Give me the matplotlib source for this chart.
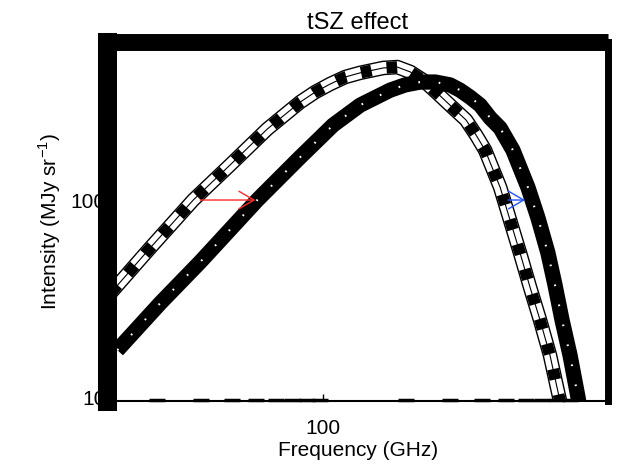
import numpy as np
import matplotlib as mpl
mpl.use('Agg')
import matplotlib.pyplot as plt

mpl.rcParams['font.family'] = ['Liberation Sans', 'DejaVu Sans']

# original CMB spectrum (hatched curve)
freq_cmb = [14.1, 20.3, 30.2, 42.5, 59.7, 80.9, 92.9, 106.7, 122.5, 140.6, 174, 198,
            223, 251, 286, 322, 373, 409, 445, 511, 560, 614, 673, 738, 809,
            863, 904]
inten_cmb = [33.7, 57.1, 100, 151, 229, 314, 353, 388, 421, 442, 468, 473,
             447, 406, 349, 303, 255, 214, 179, 116, 79, 53.8, 36.1, 24.6, 16.3,
             11.2, 8.6]

# tSZ distorted spectrum (solid black curve)
freq_tsz = [15.0, 22.3, 32.2, 54.5, 80.9, 109.6, 140.6, 185.4, 213, 244.3, 281,
            322, 353, 387, 425, 466, 511, 575, 660, 724, 794, 847, 904, 973,
            1047, 1086]
inten_tsz = [17.3, 30.0, 48.5, 100, 165, 240, 303, 361, 384, 397, 397,
             384, 361, 333, 303, 261, 232, 179, 116, 81.2, 53.8, 37.1, 24.6, 16.3,
             10.0, 7.6]

# photon shift arrows (start freq, end freq, intensity)
red_arrow = (32.2, 53.5, 100)
blue_arrow = (549.5, 642.7, 100)

xminor = [20, 30, 40, 50, 60, 70, 80, 90, 200, 300, 400, 500, 600, 700, 800, 900]

fig = plt.figure(figsize=(6.17, 4.66), dpi=100)
ax = fig.add_axes([0.1742, 0.1395, 0.812, 0.7704])
ax.set_xscale('log')
ax.set_yscale('log')
ax.set_xlim(13.7, 1387)
ax.set_ylim(9.55, 634)

# hatched original spectrum
ax.plot(freq_cmb, inten_cmb, color='black', lw=10.5, solid_capstyle='butt',
        solid_joinstyle='round', zorder=2)
ax.plot(freq_cmb, inten_cmb, color='white', lw=8.5, solid_joinstyle='round', zorder=2)
ax.plot(freq_cmb, inten_cmb, color='black', lw=8.5, dashes=(0.9, 1.3), zorder=2)
ax.plot(freq_cmb, inten_cmb, color='black', lw=0.8, zorder=2)

# distorted spectrum
ax.plot(freq_tsz, inten_tsz, color='black', lw=11, solid_capstyle='butt',
        solid_joinstyle='round', zorder=3)
ax.plot(freq_tsz, inten_tsz, color='white', lw=1.5, dashes=(0.8, 9), zorder=3)

for (x0, x1, y), col in [(red_arrow, '#ff2a2a'), (blue_arrow, '#2255ff')]:
    ax.annotate('', xy=(x1, y), xytext=(x0, y),
                arrowprops=dict(arrowstyle='->,head_length=0.6,head_width=0.35',
                                color=col, lw=1.0, mutation_scale=18,
                                shrinkA=0, shrinkB=0), zorder=4)

# minor ticks drawn as little dashes on the baseline
ylo = ax.get_ylim()[0]
for m in xminor:
    ax.hlines(ylo * 1.012, m, m * 1.16, color='black', lw=2.5, clip_on=False, zorder=4)

ax.set_xticks([100])
ax.set_xticklabels(['100'])
ax.set_yticks([10, 100])
ax.set_yticklabels(['10', '100'])
ax.xaxis.set_minor_locator(mpl.ticker.NullLocator())
ax.yaxis.set_minor_locator(mpl.ticker.NullLocator())
ax.tick_params(axis='x', direction='in', length=5, width=1, pad=13, labelsize=15)
ax.tick_params(axis='y', length=0, pad=1.5, labelsize=15)

ax.spines['left'].set_linewidth(13.7)
ax.spines['top'].set_linewidth(12.2)
ax.spines['right'].set_linewidth(5)
ax.spines['bottom'].set_linewidth(1.5)
for s in ['left', 'right']:
    ax.spines[s].set_capstyle('projecting')
ax.spines['top'].set_capstyle('butt')
for s in ax.spines.values():
    s.set_zorder(5)

ax.set_title('tSZ effect', fontsize=17, pad=9)
ax.set_xlabel('Frequency (GHz)', fontsize=15, labelpad=2)
ax.set_ylabel(r'Intensity (MJy sr$^{\mathregular{-1}}$)', fontsize=15, labelpad=5)

fig.savefig('out.png', dpi=100)
